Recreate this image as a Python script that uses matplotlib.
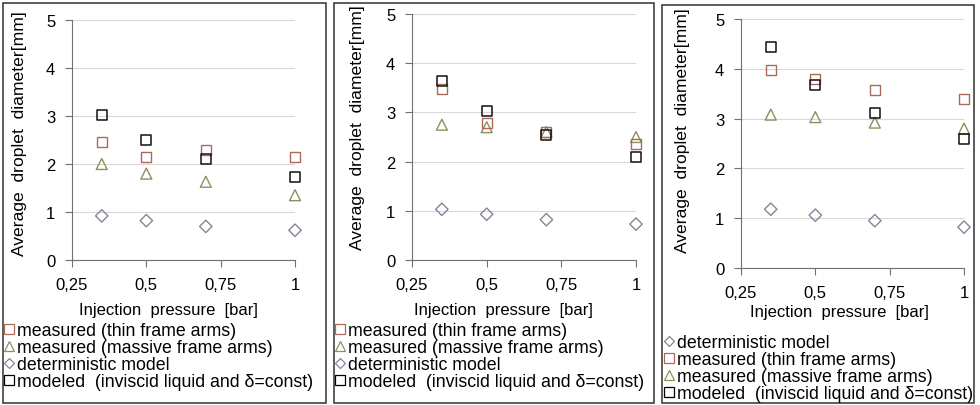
import matplotlib
matplotlib.use("Agg")
import matplotlib.pyplot as plt
from matplotlib.patches import Rectangle
from matplotlib.lines import Line2D

plt.rcParams["font.family"] = ["Liberation Sans", "DejaVu Sans"]

# injection pressure [bar]
pressure = [0.35, 0.5, 0.7, 1.0]

# panel 1
thin_1 = [2.45, 2.15, 2.30, 2.15]
massive_1 = [2.00, 1.80, 1.63, 1.35]
determ_1 = [0.92, 0.82, 0.70, 0.62]
modeled_1 = [3.02, 2.50, 2.10, 1.72]

# panel 2
thin_2 = [3.47, 2.78, 2.60, 2.35]
massive_2 = [2.75, 2.70, 2.60, 2.50]
determ_2 = [1.03, 0.93, 0.82, 0.73]
modeled_2 = [3.63, 3.03, 2.55, 2.10]

# panel 3
thin_3 = [3.98, 3.80, 3.58, 3.40]
massive_3 = [3.08, 3.03, 2.92, 2.80]
determ_3 = [1.18, 1.06, 0.95, 0.82]
modeled_3 = [4.43, 3.68, 3.12, 2.60]

x_ticks = [0.25, 0.5, 0.75, 1.0]
x_ticklabels = ["0,25", "0,5", "0,75", "1"]
y_ticks = [0, 1, 2, 3, 4, 5]

lbl_thin = "measured (thin frame arms)"
lbl_massive = "measured (massive frame arms)"
lbl_det = "deterministic model"
lbl_mod = "modeled  (inviscid liquid and δ=const)"

c_thin = "#ad6a5c"
c_massive = "#8f8f5e"
c_det = "#85859a"
c_mod = "#111111"

W, H = 980, 406
fig = plt.figure(figsize=(W / 100, H / 100), dpi=100)


def px_axes(x0, x1, ytop, ybot):
    return fig.add_axes([x0 / W, 1 - ybot / H, (x1 - x0) / W, (ybot - ytop) / H])


def draw_panel(ax, box, thin, massive, determ, modeled, xlab_px, ylab_px):
    x0, x1, ytop, ybot = box
    ax.scatter(pressure, determ, marker="D", s=40, facecolors="none",
               edgecolors=c_det, linewidths=1.0, zorder=3)
    ax.scatter(pressure, massive, marker="^", s=62, facecolors="none",
               edgecolors=c_massive, linewidths=1.0, zorder=3)
    ax.scatter(pressure, thin, marker="s", s=52, facecolors="none",
               edgecolors=c_thin, linewidths=1.0, zorder=3)
    ax.scatter(pressure, modeled, marker="s", s=52, facecolors="none",
               edgecolors=c_mod, linewidths=1.1, zorder=4)
    ax.set_xlim(0.25, 1.0)
    ax.set_ylim(0, 5)
    ax.set_xticks(x_ticks)
    ax.set_xticklabels(x_ticklabels)
    ax.set_yticks(y_ticks)
    ax.grid(axis="y", color="#ddd6d6", linewidth=0.8)
    ax.set_axisbelow(True)
    for s in ["top", "right"]:
        ax.spines[s].set_visible(False)
    for s in ["left", "bottom"]:
        ax.spines[s].set_color("#707070")
    ax.spines["bottom"].set_zorder(5)
    ax.tick_params(axis="both", labelsize=12, color="#707070", length=5,
                   direction="out", pad=7)
    ax.set_xlabel("Injection  pressure  [bar]", fontsize=12)
    ax.set_ylabel("Average  droplet  diameter[mm]", fontsize=12.6)
    # label positions, converted to axes fractions
    ax.xaxis.set_label_coords((xlab_px[0] - x0) / (x1 - x0),
                              (ybot - xlab_px[1]) / (ybot - ytop))
    ax.xaxis.label.set_va("center")
    ax.yaxis.set_label_coords((ylab_px[0] - x0) / (x1 - x0),
                              (ybot - ylab_px[1]) / (ybot - ytop))
    ax.yaxis.label.set_va("center")
    for coll in ax.collections:
        coll.set_clip_on(False)


def handle(marker, color, ms):
    return Line2D([], [], linestyle="none", marker=marker, markersize=ms,
                  markerfacecolor="none", markeredgecolor=color, markeredgewidth=0.9)


h_thin = handle("s", c_thin, 6.5)
h_massive = handle("^", c_massive, 7)
h_det = handle("D", c_det, 5.2)
h_mod = handle("s", "#000000", 6.5)

box1 = (72, 295, 21, 261)
box2 = (412, 636, 15, 261)
box3 = (741, 964, 20, 269)

ax1 = px_axes(*box1)
draw_panel(ax1, box1, thin_1, massive_1, determ_1, modeled_1, (168, 311), (20, 134))
ax2 = px_axes(*box2)
draw_panel(ax2, box2, thin_2, massive_2, determ_2, modeled_2, (503, 311), (357, 128))
ax3 = px_axes(*box3)
draw_panel(ax3, box3, thin_3, massive_3, determ_3, modeled_3, (839, 312), (682, 131))

leg_kw = dict(frameon=False, fontsize=12.8, handlelength=0.6, handletextpad=0.15,
              borderaxespad=0, borderpad=0, labelspacing=0.0, loc="upper left",
              bbox_transform=fig.transFigure)

fig.legend([h_thin, h_massive, h_det, h_mod],
           [lbl_thin, lbl_massive, lbl_det, lbl_mod],
           bbox_to_anchor=(4 / W, 1 - 323 / H), **leg_kw)
fig.legend([h_thin, h_massive, h_det, h_mod],
           [lbl_thin, lbl_massive, lbl_det, lbl_mod],
           bbox_to_anchor=(335 / W, 1 - 323 / H), **leg_kw)
fig.legend([h_det, h_thin, h_massive, h_mod],
           [lbl_det, lbl_thin, lbl_massive, lbl_mod],
           bbox_to_anchor=(664 / W, 1 - 335 / H), **leg_kw)

# panel frames
for x0, x1, y0, y1 in [(3, 326, 4, 404), (334, 654, 4, 404), (662, 974, 6, 404)]:
    fig.patches.append(Rectangle((x0 / W, 1 - y1 / H), (x1 - x0) / W, (y1 - y0) / H,
                                 transform=fig.transFigure, fill=False,
                                 edgecolor="#303030", linewidth=1.1))

fig.savefig("out.png", dpi=100)
